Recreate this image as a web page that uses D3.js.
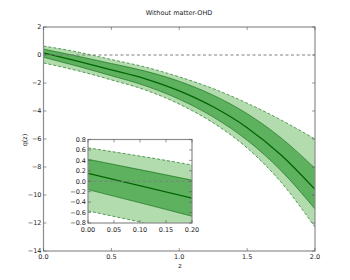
<!DOCTYPE html>
<html>
<head>
<meta charset="utf-8">
<script src="https://cdn.jsdelivr.net/npm/d3@7"></script>
<style>
  body { margin: 0; background: #fff; }
  svg { display: block; font-family: "DejaVu Sans", sans-serif; }
</style>
</head>
<body>
<svg id="chart" width="350" height="280"></svg>
<script>
// redshift grid and q(z) reconstruction
const zs = [0, 0.25, 0.5, 0.75, 1.0, 1.25, 1.5, 1.75, 2.0];
const qMid = [0.15, -0.44, -1.06, -1.70, -2.56, -3.70, -5.19, -7.14, -9.6];
const qDarkUp = [0.42, -0.08, -0.61, -1.15, -1.88, -2.87, -4.19, -5.92, -8.1];
const qDarkLo = [-0.16, -0.80, -1.48, -2.20, -3.16, -4.43, -6.09, -8.26, -11.0];
const qLightUp = [0.64, 0.22, -0.32, -0.86, -1.56, -2.40, -3.44, -4.64, -6.0];
const qLightLo = [-0.57, -1.12, -1.78, -2.50, -3.51, -4.85, -6.64, -9.09, -12.3];

const mainXTicks = [0, 0.5, 1.0, 1.5, 2.0];
const mainYTicks = [2, 0, -2, -4, -6, -8, -10, -12, -14];
const insetXTicks = [0, 0.05, 0.10, 0.15, 0.20];
const insetYTicks = [0.8, 0.6, 0.4, 0.2, 0.0, -0.2, -0.4, -0.6, -0.8];

const LIGHT_FILL = "#b2dcad";
const DARK_FILL = "#5eb15e";
const LINE_COLOR = "#006400";
const FRAME_COLOR = "#8c8c8c";

const svg = d3.select("#chart");
const defs = svg.append("defs");
const rows = zs.map((z, i) => ({
  z, mid: qMid[i], du: qDarkUp[i], dl: qDarkLo[i], lu: qLightUp[i], ll: qLightLo[i]
}));

const fmtMinus = (s) => s.replace("-", "\u2212");

function drawPanel(opts) {
  const { id, x0, x1, y0, y1, xDomain, yDomain, xTicks, yTicks, xFmt, yFmt, xLabelDy } = opts;
  const x = d3.scaleLinear().domain(xDomain).range([x0, x1]);
  const y = d3.scaleLinear().domain(yDomain).range([y1, y0]);
  const g = svg.append("g");

  g.append("rect").attr("x", x0).attr("y", y0).attr("width", x1 - x0).attr("height", y1 - y0)
    .attr("fill", "#fff");

  defs.append("clipPath").attr("id", id)
    .append("rect").attr("x", x0).attr("y", y0).attr("width", x1 - x0).attr("height", y1 - y0);

  const plot = g.append("g").attr("clip-path", `url(#${id})`);
  const curve = d3.curveMonotoneX;

  const area = (lo, hi) => d3.area().curve(curve).x((d) => x(d.z)).y0((d) => y(d[lo])).y1((d) => y(d[hi]));
  const line = (k) => d3.line().curve(curve).x((d) => x(d.z)).y((d) => y(d[k]));

  plot.append("path").datum(rows).attr("d", area("lu", "du")).attr("fill", LIGHT_FILL);
  plot.append("path").datum(rows).attr("d", area("dl", "ll")).attr("fill", LIGHT_FILL);
  plot.append("path").datum(rows).attr("d", area("dl", "du")).attr("fill", DARK_FILL);

  ["lu", "ll"].forEach((k) => {
    plot.append("path").datum(rows).attr("d", line(k)).attr("fill", "none")
      .attr("stroke", LINE_COLOR).attr("stroke-width", 0.6).attr("stroke-dasharray", "3,2");
  });
  ["du", "dl"].forEach((k) => {
    plot.append("path").datum(rows).attr("d", line(k)).attr("fill", "none")
      .attr("stroke", LINE_COLOR).attr("stroke-width", 0.6);
  });
  plot.append("path").datum(rows).attr("d", line("mid")).attr("fill", "none")
    .attr("stroke", LINE_COLOR).attr("stroke-width", 1.3);

  plot.append("line").attr("x1", x0).attr("x2", x1).attr("y1", y(0)).attr("y2", y(0))
    .attr("stroke", "#808080").attr("stroke-width", 1).attr("stroke-dasharray", "3,2.5");

  // frame and inward ticks
  g.append("rect").attr("x", x0).attr("y", y0).attr("width", x1 - x0).attr("height", y1 - y0)
    .attr("fill", "none").attr("stroke", FRAME_COLOR).attr("stroke-width", 1.2);

  const tickLen = 3;
  xTicks.forEach((t) => {
    const xp = x(t);
    g.append("line").attr("x1", xp).attr("x2", xp).attr("y1", y1).attr("y2", y1 - tickLen)
      .attr("stroke", "#555").attr("stroke-width", 0.6);
    g.append("line").attr("x1", xp).attr("x2", xp).attr("y1", y0).attr("y2", y0 + tickLen)
      .attr("stroke", "#555").attr("stroke-width", 0.6);
    g.append("text").attr("x", xp).attr("y", y1 + xLabelDy).attr("text-anchor", "middle")
      .attr("font-size", 6.5).attr("fill", "#222").text(fmtMinus(xFmt(t)));
  });
  yTicks.forEach((t) => {
    const yp = y(t);
    g.append("line").attr("x1", x0).attr("x2", x0 + tickLen).attr("y1", yp).attr("y2", yp)
      .attr("stroke", "#555").attr("stroke-width", 0.6);
    g.append("line").attr("x1", x1).attr("x2", x1 - tickLen).attr("y1", yp).attr("y2", yp)
      .attr("stroke", "#555").attr("stroke-width", 0.6);
    g.append("text").attr("x", x0 - 2).attr("y", yp + 2.3).attr("text-anchor", "end")
      .attr("font-size", 6.5).attr("fill", "#222").text(fmtMinus(yFmt(t)));
  });
}

drawPanel({
  id: "clip-main", x0: 43.5, x1: 315, y0: 27, y1: 251,
  xDomain: [0, 2], yDomain: [-14, 2],
  xTicks: mainXTicks, yTicks: mainYTicks,
  xFmt: d3.format(".1f"), yFmt: d3.format("d"), xLabelDy: 8
});

drawPanel({
  id: "clip-inset", x0: 88, x1: 192, y0: 139.5, y1: 223,
  xDomain: [0, 0.2], yDomain: [-0.8, 0.8],
  xTicks: insetXTicks, yTicks: insetYTicks,
  xFmt: d3.format(".2f"), yFmt: d3.format(".1f"), xLabelDy: 9
});

svg.append("text").attr("x", 179).attr("y", 15).attr("text-anchor", "middle")
  .attr("font-size", 6.5).attr("fill", "#222").text("Without matter-OHD");
svg.append("text").attr("x", 180).attr("y", 268).attr("text-anchor", "middle")
  .attr("font-size", 6.5).attr("fill", "#222").text("z");
svg.append("text").attr("transform", "translate(27,140) rotate(-90)").attr("text-anchor", "middle")
  .attr("font-size", 6.5).attr("fill", "#222").text("q(z)");
</script>
</body>
</html>
